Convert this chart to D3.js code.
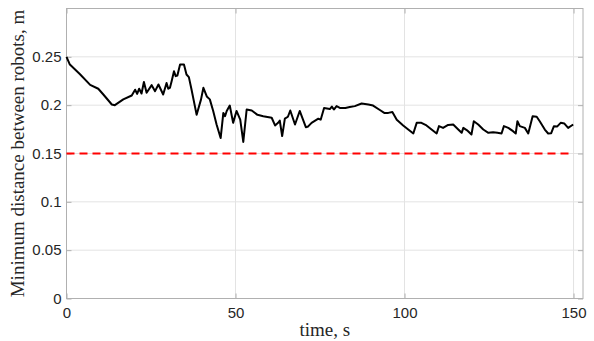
<!DOCTYPE html>
<html>
<head>
<meta charset="utf-8">
<script src="https://cdn.jsdelivr.net/npm/d3@7"></script>
<style>
  body { margin: 0; background: #fff; }
  svg { display: block; }
</style>
</head>
<body>
<div id="chart"></div>
<script>
// time, s
var time = [0, 1, 4, 7, 9.4, 10.9, 13.4, 14.3, 16.8, 19.3, 20.3, 20.9, 21.5, 22.2, 22.9, 23.7,
  25.2, 26.2, 27.2, 28.6, 29.6, 30.1, 30.6, 31.1, 31.8, 32.3, 32.8, 33.6, 34.75, 35.5, 36.2, 37,
  38.5, 39.8, 40.5, 41.5, 42.4, 43.4, 44.4, 45.6, 46.4, 46.9, 47.4, 48.3, 49.3, 50.3, 51.4, 52.3,
  53.3, 54.8, 56.5, 58.2, 60.7, 61.7, 62.6, 63.1, 63.8, 64.6, 65.5, 66.2, 67.6, 69.0, 70.8, 71.5,
  72.5, 74.5, 75.2, 76.2, 77.9, 78.5, 79.1, 79.9, 81, 82.5, 83.8, 85.3, 87.3, 89.3, 90.7, 92.7,
  94, 95.2, 96.4, 97.7, 99.6, 101.1, 102.6, 103.6, 105, 106.5, 108, 109.5, 110.2, 111.4, 112.9,
  114.4, 115.9, 116.9, 117.4, 118.5, 119.8, 120.5, 121.8, 123.3, 124.8, 126.2, 127.5, 128.7,
  129.4, 130.7, 132.1, 132.9, 133.4, 134.1, 135.6, 136.6, 137.9, 139.1, 140, 141.5, 142.5,
  143.4, 144.2, 145.2, 146.2, 147.3, 148.4, 149.9];

// minimum distance between robots, m
var distance = [0.250, 0.242, 0.232, 0.221, 0.217, 0.211, 0.2007, 0.200, 0.206, 0.210, 0.216,
  0.2117, 0.217, 0.212, 0.224, 0.2128, 0.2207, 0.2145, 0.2214, 0.211, 0.223, 0.217, 0.218,
  0.2248, 0.235, 0.230, 0.2307, 0.242, 0.242, 0.2317, 0.229, 0.216, 0.190, 0.206, 0.218, 0.209,
  0.206, 0.194, 0.180, 0.166, 0.192, 0.1886, 0.194, 0.1996, 0.1817, 0.194, 0.185, 0.162, 0.1955,
  0.1945, 0.190, 0.1886, 0.187, 0.179, 0.1817, 0.184, 0.168, 0.186, 0.188, 0.1945, 0.180, 0.194,
  0.1772, 0.178, 0.1817, 0.186, 0.185, 0.197, 0.196, 0.1985, 0.1955, 0.199, 0.197, 0.197, 0.198,
  0.199, 0.2017, 0.2007, 0.1996, 0.195, 0.192, 0.192, 0.193, 0.185, 0.179, 0.1748, 0.1707,
  0.1817, 0.1817, 0.179, 0.1748, 0.1707, 0.1783, 0.1765, 0.1796, 0.180, 0.1748, 0.1714, 0.1765,
  0.174, 0.1696, 0.1834, 0.180, 0.1748, 0.1714, 0.172, 0.1714, 0.1707, 0.1783, 0.1765, 0.1731,
  0.1707, 0.1834, 0.1783, 0.1765, 0.1707, 0.1886, 0.188, 0.1834, 0.1748, 0.1707, 0.171, 0.1783,
  0.178, 0.1817, 0.181, 0.1765, 0.180];

var safeDistance = 0.15;
var xTicks = [0, 50, 100, 150];
var yTicks = [0, 0.05, 0.1, 0.15, 0.2, 0.25];

var width = 594, height = 341;
var plotLeft = 66.5, plotRight = 583, plotTop = 8.5, plotBottom = 298.5;

var svg = d3.select('#chart').append('svg')
  .attr('width', width)
  .attr('height', height);

var x = d3.scaleLinear().domain([0, 152.8]).range([plotLeft, plotRight]);
var y = d3.scaleLinear().domain([0, 0.3]).range([plotBottom, plotTop]);

var axisColor = '#b0b0b0';
var textColor = '#262626';

// grid
svg.append('g')
  .selectAll('line')
  .data(xTicks)
  .enter().append('line')
  .attr('x1', function(d){ return x(d); })
  .attr('x2', function(d){ return x(d); })
  .attr('y1', plotTop).attr('y2', plotBottom)
  .attr('stroke', '#e3e3e3');

svg.append('g')
  .selectAll('line')
  .data(yTicks)
  .enter().append('line')
  .attr('y1', function(d){ return y(d); })
  .attr('y2', function(d){ return y(d); })
  .attr('x1', plotLeft).attr('x2', plotRight)
  .attr('stroke', '#e3e3e3');

// axes (ticks pointing inward, box on all sides)
var fmt = function(d){ return d3.format('~g')(d); };

var gx = svg.append('g')
  .attr('transform', 'translate(0,' + plotBottom + ')')
  .call(d3.axisBottom(x).tickValues(xTicks).tickFormat(fmt).tickSizeInner(-5).tickSizeOuter(0).tickPadding(9));

var gxTop = svg.append('g')
  .attr('transform', 'translate(0,' + plotTop + ')')
  .call(d3.axisTop(x).tickValues(xTicks).tickFormat('').tickSizeInner(-5).tickSizeOuter(0));

var gy = svg.append('g')
  .attr('transform', 'translate(' + plotLeft + ',0)')
  .call(d3.axisLeft(y).tickValues(yTicks).tickFormat(fmt).tickSizeInner(-5).tickSizeOuter(0).tickPadding(5));

var gyRight = svg.append('g')
  .attr('transform', 'translate(' + plotRight + ',0)')
  .call(d3.axisRight(y).tickValues(yTicks).tickFormat('').tickSizeInner(-5).tickSizeOuter(0));

[gx, gxTop, gy, gyRight].forEach(function(g){
  g.select('.domain').remove();
  g.selectAll('line').attr('stroke', axisColor);
  g.selectAll('text')
    .attr('fill', textColor)
    .style('font-family', '"Liberation Sans", Arial, sans-serif')
    .style('font-size', '15px');
});

svg.append('rect')
  .attr('x', plotLeft).attr('y', plotTop)
  .attr('width', plotRight - plotLeft).attr('height', plotBottom - plotTop)
  .attr('fill', 'none')
  .attr('stroke', axisColor);

// safety threshold
svg.append('line')
  .attr('x1', x(0)).attr('x2', x(150))
  .attr('y1', y(safeDistance)).attr('y2', y(safeDistance))
  .attr('stroke', '#ff0000')
  .attr('stroke-width', 2)
  .attr('stroke-dasharray', '8,5');

// distance curve
var line = d3.line()
  .x(function(d, i){ return x(time[i]); })
  .y(function(d){ return y(d); });

svg.append('path')
  .datum(distance)
  .attr('d', line)
  .attr('fill', 'none')
  .attr('stroke', '#000')
  .attr('stroke-width', 2)
  .attr('stroke-linejoin', 'round');

// labels
svg.append('text')
  .attr('x', (plotLeft + plotRight) / 2)
  .attr('y', 336)
  .attr('text-anchor', 'middle')
  .attr('fill', textColor)
  .style('font-family', '"Liberation Serif", "Times New Roman", serif')
  .style('font-size', '19px')
  .text('time, s');

svg.append('text')
  .attr('transform', 'translate(24,' + ((plotTop + plotBottom) / 2) + ') rotate(-90)')
  .attr('text-anchor', 'middle')
  .attr('fill', textColor)
  .style('font-family', '"Liberation Serif", "Times New Roman", serif')
  .style('font-size', '19px')
  .text('Minimum distance between robots, m');
</script>
</body>
</html>
